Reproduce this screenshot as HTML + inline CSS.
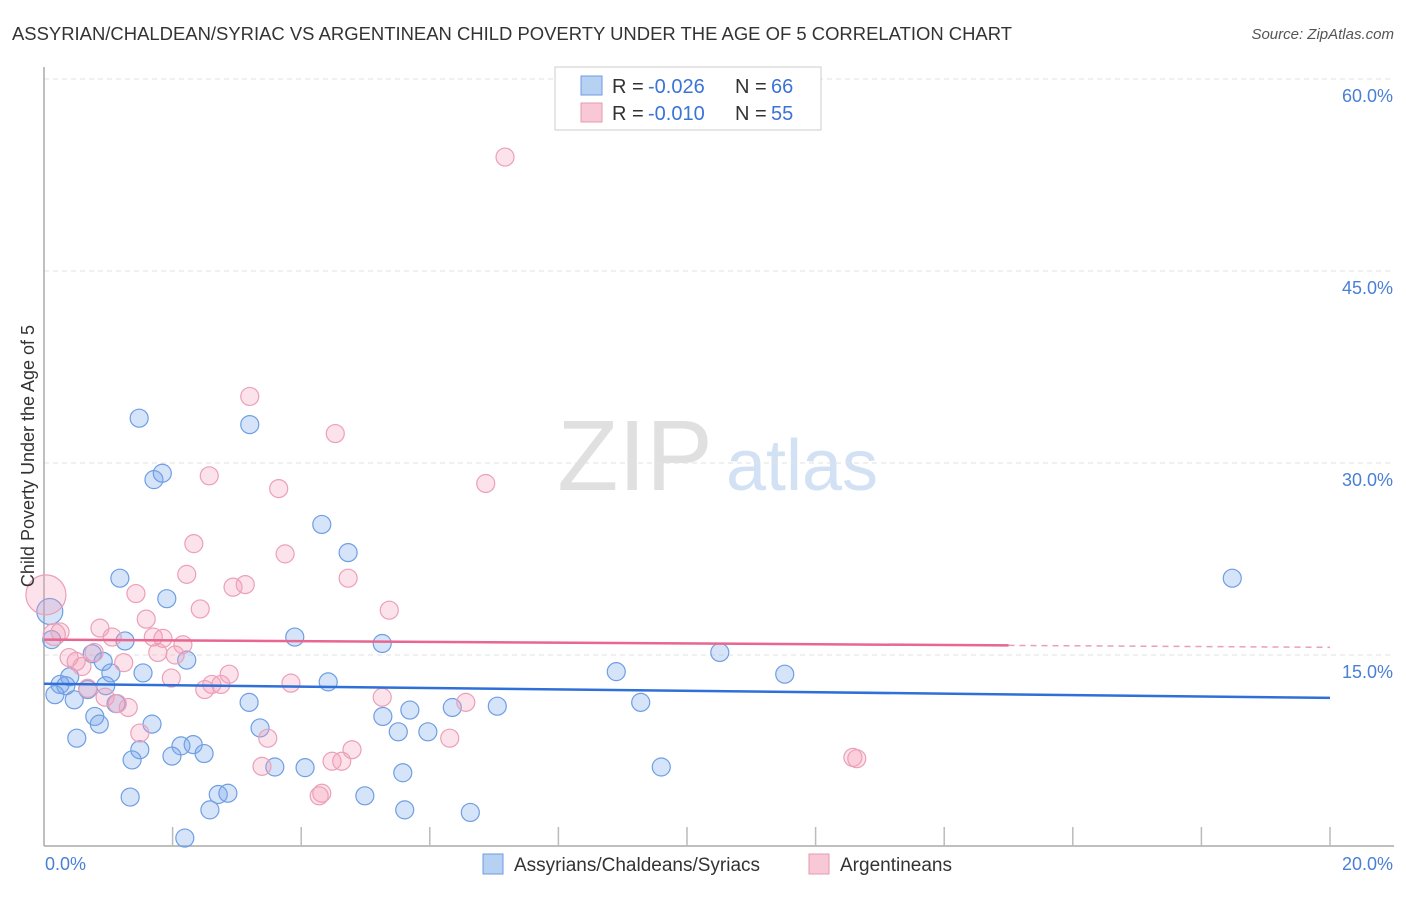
<!DOCTYPE html>
<html><head><meta charset="utf-8"><style>
body{margin:0;background:#fff;font-family:"Liberation Sans",sans-serif}
svg text{font-family:"Liberation Sans",sans-serif}
</style></head><body>
<svg id="chart" width="1406" height="892" viewBox="0 0 1406 892" xmlns="http://www.w3.org/2000/svg">
<text x="12" y="40" font-size="18" fill="#333" textLength="1000" lengthAdjust="spacingAndGlyphs">ASSYRIAN/CHALDEAN/SYRIAC VS ARGENTINEAN CHILD POVERTY UNDER THE AGE OF 5 CORRELATION CHART</text>
<text x="1394" y="39" font-size="15" fill="#555" font-style="italic" text-anchor="end">Source: ZipAtlas.com</text>
<g>
<text x="635" y="490" font-size="100" fill="#e0e0e0" font-family="Liberation Serif,serif" text-anchor="middle">ZIP</text>
<text x="802" y="490" font-size="72" fill="#d3e1f5" text-anchor="middle">atlas</text>
</g>
<g id="grid"></g>
<g id="axes"></g>
<g id="pts"></g>
<g id="lines"></g>
<text transform="translate(34,456) rotate(-90)" font-size="18" fill="#333" text-anchor="middle">Child Poverty Under the Age of 5</text>
<g>
<rect x="555" y="67" width="266" height="63" fill="#fff" stroke="#ccc"/>
<rect x="581" y="76" width="21" height="19" fill="#b7d1f3" stroke="#6d9ae0"/>
<text x="612" y="93" font-size="20" fill="#333">R =</text>
<text x="648" y="93" font-size="20" fill="#3b73d6">-0.026</text>
<text x="735" y="93" font-size="20" fill="#333">N =</text>
<text x="771" y="93" font-size="20" fill="#3b73d6">66</text>
<rect x="581" y="103" width="21" height="19" fill="#f8c8d7" stroke="#e898b1"/>
<text x="612" y="120" font-size="20" fill="#333">R =</text>
<text x="648" y="120" font-size="20" fill="#3b73d6">-0.010</text>
<text x="735" y="120" font-size="20" fill="#333">N =</text>
<text x="771" y="120" font-size="20" fill="#3b73d6">55</text>
</g>
<g>
<rect x="483" y="854" width="20" height="20" fill="#b7d1f3" stroke="#6d9ae0"/>
<text x="514" y="871" font-size="19" fill="#333">Assyrians/Chaldeans/Syriacs</text>
<rect x="809" y="854" width="20" height="20" fill="#f8c8d7" stroke="#e898b1"/>
<text x="840" y="871" font-size="19" fill="#333">Argentineans</text>
</g>
</svg>
<script>
const yTicks=[15,30,45,60];
const yTickLabels=["15.0%","30.0%","45.0%","60.0%"];
const xTickLabels=["0.0%","20.0%"];
const blueX=[1.48,3.20,1.71,1.84,4.32,4.73,1.18,1.91,1.26,3.90,5.26,2.22,0.75,0.92,1.04,1.54,0.40,0.25,0.34,0.96,0.68,4.42,0.17,0.47,3.19,1.12,1.68,0.79,0.86,3.36,5.69,6.35,5.27,7.05,5.51,5.97,0.51,2.13,2.32,1.49,1.37,1.99,2.49,3.59,4.06,5.58,1.34,2.71,2.86,4.99,2.58,5.61,6.63,2.19,8.90,9.28,10.51,11.52,9.60,18.48,0.09,0.12];
const blueY=[33.5,33.0,28.7,29.2,25.2,23.0,21.0,19.4,16.1,16.4,15.9,14.6,15.1,14.5,13.6,13.6,13.3,12.7,12.6,12.6,12.3,12.9,11.9,11.5,11.3,11.2,9.6,10.2,9.6,9.3,10.7,10.9,10.2,11.0,9.0,9.0,8.5,7.9,8.0,7.6,6.8,7.1,7.3,6.25,6.2,5.8,3.9,4.1,4.2,4.0,2.9,2.9,2.7,0.7,13.7,11.3,15.2,13.5,6.25,21.0,18.4,16.2];
const blueR=[9,9,9,9,9,9,9,9,9,9,9,9,9,9,9,9,9,9,9,9,9,9,9,9,9,9,9,9,9,9,9,9,9,9,9,9,9,9,9,9,9,9,9,9,9,9,9,9,9,9,9,9,9,9,9,9,9,9,9,9,13,9];
const pinkX=[7.17,3.20,4.53,2.57,6.87,3.65,2.33,3.75,2.22,4.73,1.43,2.94,3.13,2.43,5.37,1.59,0.87,0.25,0.03,0.16,1.06,1.70,1.85,2.16,1.77,2.04,0.39,0.78,1.24,0.59,2.88,1.98,2.61,2.75,2.50,3.84,0.95,1.14,1.31,5.26,6.56,1.49,3.48,6.31,4.79,3.39,4.48,4.63,4.32,4.28,12.58,12.64,0.68,0.50];
const pinkY=[53.9,35.2,32.3,29.0,28.4,28.0,23.7,22.9,21.3,21.0,19.8,20.3,20.5,18.6,18.5,17.8,17.1,16.8,19.7,16.6,16.4,16.4,16.3,15.8,15.2,15.0,14.8,15.2,14.4,14.1,13.5,13.2,12.7,12.7,12.3,12.8,11.7,11.2,10.9,11.7,11.3,8.9,8.5,8.5,7.6,6.3,6.7,6.7,4.2,4.0,7.0,6.9,12.4,14.5];
const pinkR=[9,9,9,9,9,9,9,9,9,9,9,9,9,9,9,9,9,9,20,11,9,9,9,9,9,9,9,9,9,9,9,9,9,9,9,9,9,9,9,9,9,9,9,9,9,9,9,9,9,9,9,9,9,9];
const blueTrend=[12.75,11.65];
const pinkTrend=[16.2,15.6];
const pinkSolidEnd=15.0;
const xMax=20;
const NS="http://www.w3.org/2000/svg";
const X=v=>44+v/xMax*1286;
const Y=v=>847-v*12.8;
function mk(tag,attrs,parent){const e=document.createElementNS(NS,tag);for(const k in attrs)e.setAttribute(k,attrs[k]);parent.appendChild(e);return e;}
const grid=document.getElementById('grid'),axes=document.getElementById('axes'),pts=document.getElementById('pts'),lines=document.getElementById('lines');
yTicks.forEach((t,i)=>{
 const g=mk('line',{x1:44,x2:1394,y1:Y(t),y2:Y(t),stroke:'#e2e2e2','stroke-dasharray':'5,4'},grid);
 
 
 const tx=mk('text',{x:1393,y:Y(t)+23,'font-size':18,fill:'#4a7fd6','text-anchor':'end'},axes);
 tx.textContent=yTickLabels[i];
 
 
});
const ya=mk('line',{x1:44,x2:44,y1:67,y2:846,stroke:'#aaa','stroke-width':1.5},axes);


const xa=mk('line',{x1:44,x2:1394,y1:846,y2:846,stroke:'#aaa','stroke-width':1.5},axes);


for(let v=2;v<=20;v+=2){
 const t=mk('line',{x1:X(v),x2:X(v),y1:827,y2:846,stroke:'#bbb','stroke-width':1.5},axes);
 
 
}
[0,20].forEach((v,i)=>{
 const t=mk('text',{x:i?1393:45,y:870,'font-size':18,fill:'#4a7fd6','text-anchor':i?'end':'start'},axes);
 t.textContent=xTickLabels[i];
 
 
});
blueX.forEach((v,i)=>{
 const c=mk('circle',{cx:X(v),cy:Y(blueY[i]),r:blueR[i],fill:'rgba(120,165,235,0.3)',stroke:'#6e9ee3','stroke-width':1.2},pts);
 
 
});
pinkX.forEach((v,i)=>{
 const c=mk('circle',{cx:X(v),cy:Y(pinkY[i]),r:pinkR[i],fill:'rgba(245,160,185,0.3)',stroke:'#eba0b8','stroke-width':1.2},pts);
 
 
});
const bl=mk('line',{x1:X(0),x2:X(20),y1:Y(blueTrend[0]),y2:Y(blueTrend[1]),stroke:'#2f6fd8','stroke-width':2.5},lines);


const pAt=v=>pinkTrend[0]+(pinkTrend[1]-pinkTrend[0])*v/20;
const pl=mk('line',{x1:X(0),x2:X(pinkSolidEnd),y1:Y(pAt(0)),y2:Y(pAt(pinkSolidEnd)),stroke:'#e8668f','stroke-width':2.5},lines);


const pd=mk('line',{x1:X(pinkSolidEnd),x2:X(20),y1:Y(pAt(pinkSolidEnd)),y2:Y(pAt(20)),stroke:'#e8a0b5','stroke-width':1.5,'stroke-dasharray':'6,5'},lines);


</script>
</body></html>
